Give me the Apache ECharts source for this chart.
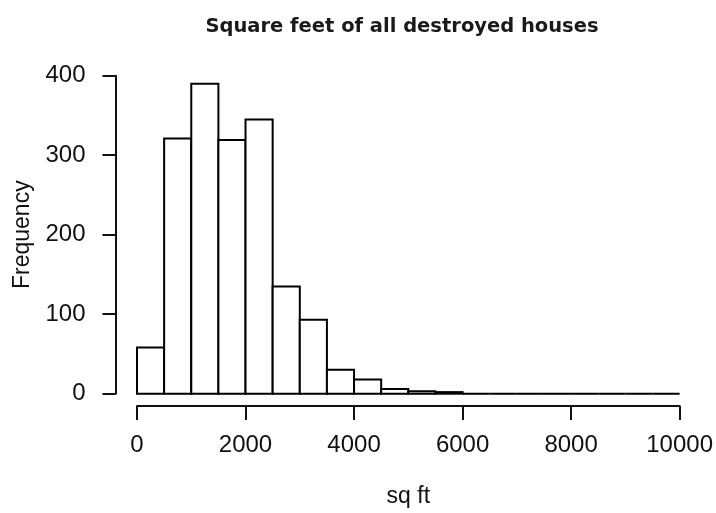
<!DOCTYPE html>
<html>
<head>
<meta charset="utf-8">
<title>Square feet of all destroyed houses</title>
<script src="https://cdn.jsdelivr.net/npm/echarts@6/dist/echarts.min.js"></script>
<style>
  html, body { margin: 0; padding: 0; background: #ffffff; }
  #chart { width: 716px; height: 513px; }
</style>
</head>
<body>
<div id="chart"></div>
<script>
// Histogram bins (sq ft), width 500
const binStarts = [0, 500, 1000, 1500, 2000, 2500, 3000, 3500, 4000, 4500,
                   5000, 5500, 6000, 6500, 7000, 7500, 8000, 8500, 9000, 9500];
const binWidth = 500;
// Number of houses in each bin
const counts = [58, 321, 390, 319, 345, 135, 93, 30, 18, 6,
                3, 2, 0, 0, 0, 0, 0, 0, 0, 0];
const xTicks = [0, 2000, 4000, 6000, 8000, 10000];
const yTicks = [0, 100, 200, 300, 400];

const binData = binStarts.map((s, i) => [s, s + binWidth, counts[i]]);

const chart = echarts.init(document.getElementById('chart'), null, { renderer: 'canvas' });

const axisFont = 'Liberation Sans, Arial, sans-serif';
const ink = '#111111';

chart.setOption({
  backgroundColor: '#ffffff',
  animation: false,
  title: {
    text: 'Square feet of all destroyed houses',
    left: 397,
    top: 12,
    textAlign: 'center',
    textStyle: {
      fontFamily: 'DejaVu Sans, sans-serif',
      fontWeight: 'bold',
      fontSize: 19.5,
      color: '#1a1a1a'
    }
  },
  grid: {
    left: 137,
    right: 35,
    top: 75.7,
    bottom: 117.3,
    containLabel: false
  },
  xAxis: {
    type: 'value',
    min: xTicks[0],
    max: xTicks[xTicks.length - 1],
    interval: 2000,
    offset: 12.3,
    name: 'sq ft',
    nameLocation: 'middle',
    nameGap: 79,
    nameTextStyle: { fontFamily: axisFont, fontSize: 23, color: ink },
    axisLine: { show: true, onZero: false, lineStyle: { color: ink, width: 2 } },
    axisTick: { show: true, inside: false, length: 14, lineStyle: { color: ink, width: 2 } },
    axisLabel: {
      fontFamily: axisFont, fontSize: 24, color: ink, margin: 27,
      formatter: (v) => String(v)
    },
    splitLine: { show: false }
  },
  yAxis: {
    type: 'value',
    min: yTicks[0],
    max: yTicks[yTicks.length - 1],
    interval: 100,
    offset: 21.5,
    name: 'Frequency',
    nameLocation: 'middle',
    nameRotate: 90,
    nameGap: 78,
    nameTextStyle: { fontFamily: axisFont, fontSize: 23, color: ink },
    axisLine: { show: true, onZero: false, lineStyle: { color: ink, width: 2 } },
    axisTick: { show: true, inside: false, length: 13, lineStyle: { color: ink, width: 2 } },
    axisLabel: {
      fontFamily: axisFont, fontSize: 24, color: ink, margin: 30,
      formatter: (v) => String(v)
    },
    splitLine: { show: false }
  },
  series: [{
    type: 'custom',
    data: binData,
    encode: { x: [0, 1], y: 2 },
    renderItem: function (params, api) {
      const p0 = api.coord([api.value(0), 0]);
      const p1 = api.coord([api.value(1), api.value(2)]);
      return {
        type: 'rect',
        shape: { x: p0[0], y: p1[1], width: p1[0] - p0[0], height: p0[1] - p1[1] },
        style: { fill: '#ffffff', stroke: '#000000', lineWidth: 2 }
      };
    }
  }]
});
</script>
</body>
</html>
